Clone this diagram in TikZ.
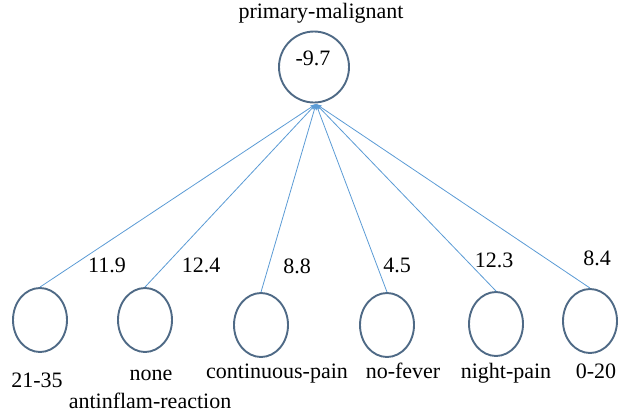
\documentclass[tikz,border=0pt]{standalone}
\usepackage{fontspec}
\setmainfont{Liberation Serif}
\usetikzlibrary{shapes.geometric,arrows.meta}
\definecolor{ringcol}{HTML}{4F6A86}
\definecolor{edgecol}{HTML}{5B9BD5}
\tikzset{
  ring/.style={draw=ringcol, line width=1.9pt, ellipse, inner sep=0pt, minimum width=54pt, minimum height=64pt},
  topring/.style={draw=ringcol, line width=1.9pt, ellipse, inner sep=0pt, minimum width=70pt, minimum height=71pt},
  link/.style={draw=edgecol, line width=0.8pt, -{Stealth[length=6pt,width=4pt]}},
  txt/.style={font=\fontsize{22}{24}\selectfont, inner sep=0pt, text=black, anchor=base},
}
\begin{document}
\begin{tikzpicture}[x=1pt,y=-1pt]
\useasboundingbox (0,0) rectangle (628,418);
\node[topring] (top) at (314,67) {};
\node[txt] (topval) at (313,65) {-9.7};
\node[txt] (toplab) at (321,18) {primary-malignant};

\node[ring] (c1) at (40,320) {};
\node[ring] (c2) at (145,320) {};
\node[ring] (c3) at (261,325) {};
\node[ring] (c4) at (387,325) {};
\node[ring] (c5) at (496,324) {};
\node[ring] (c6) at (590,321) {};

\coordinate (tip) at (316,104);
\foreach \c in {c1,c2,c3,c4,c5,c6}{
  \draw[link] (\c.north) -- (tip);
}

\node[txt] (w1) at (107,272) {11.9};
\node[txt] (w2) at (201,272) {12.4};
\node[txt] (w3) at (297,273) {8.8};
\node[txt] (w4) at (397,272) {4.5};
\node[txt] (w5) at (494,267) {12.3};
\node[txt] (w6) at (597,265) {8.4};

\node[txt] (l1) at (37,387) {21-35};
\node[txt] (l2) at (151,380) {none};
\node[txt] (l2b) at (150,408) {antinflam-reaction};
\node[txt] (l3) at (277,378) {continuous-pain};
\node[txt] (l4) at (403,378) {no-fever};
\node[txt] (l5) at (506,378) {night-pain};
\node[txt] (l6) at (596,378) {0-20};
\end{tikzpicture}
\end{document}
